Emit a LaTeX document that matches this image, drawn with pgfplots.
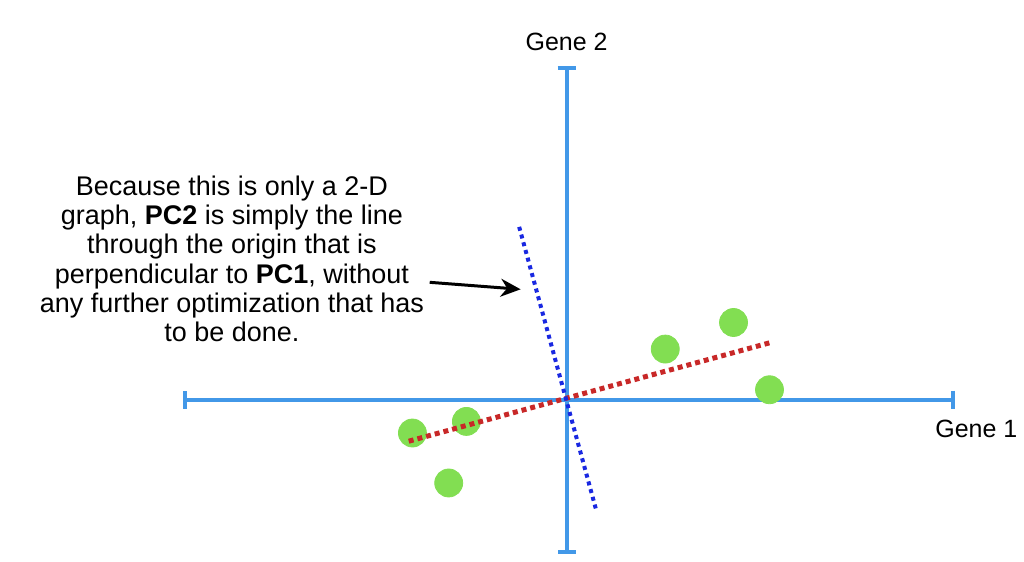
\documentclass[border=0pt]{standalone}
\usepackage{pgfplots}
\pgfplotsset{compat=1.18}
\usepackage{fontspec}
\setmainfont{Liberation Sans}
\usetikzlibrary{arrows.meta}
\definecolor{axblue}{RGB}{66,152,232}
\definecolor{ptgreen}{RGB}{130,222,82}
\definecolor{pcred}{RGB}{200,40,40}
\definecolor{pcblue}{RGB}{25,40,225}
\begin{document}
\begin{tikzpicture}
\begin{axis}[width=512pt,height=281pt,scale only axis,set layers,
  xmin=0,xmax=1024,ymin=0,ymax=562,y dir=reverse,
  axis lines=none,clip=false]
\path (axis cs:0,0) rectangle (axis cs:1024,562);
\addplot[axblue,line width=2pt,{Bar[width=9pt]}-{Bar[width=9pt]}] coordinates {(183,400) (956,400)};
\addplot[axblue,line width=2pt,{Bar[width=9pt]}-{Bar[width=9pt]}] coordinates {(567,66) (567,554)};
\addplot[only marks, mark=*, mark size=7pt, color=ptgreen,
  mark options={draw=ptgreen,fill=ptgreen}] coordinates {
  (412.7,433.3) (466.7,421.7) (449,483.3) (665.7,349.3) (734,322.7) (770,390)};
\addplot[on layer=axis foreground, pcred, line width=2.5pt, dash pattern=on 2.5pt off 2pt] coordinates {(409,441.5) (772,342.5)};
\addplot[on layer=axis foreground, pcblue, line width=2pt, dash pattern=on 2pt off 2pt] coordinates {(519.5,227) (597,512)};
\addplot[on layer=axis foreground, black, line width=1.5pt, -{Stealth[length=10pt,width=9pt]}] coordinates {(430,282.5) (521,289.5)};
\node[font=\fontsize{12.5}{14.5}\selectfont] at (axis cs:567,42) {Gene 2};
\node[font=\fontsize{12.5}{14.5}\selectfont] at (axis cs:977,429) {Gene 1};
\node[align=center,font=\fontsize{13.5}{14.6}\selectfont] at (axis cs:232,259) {Because this is only a 2-D\\ graph, \textbf{PC2} is simply the line\\ through the origin that is\\ perpendicular to \textbf{PC1}, without\\ any further optimization that has\\ to be done.};
\end{axis}
\end{tikzpicture}
\end{document}
